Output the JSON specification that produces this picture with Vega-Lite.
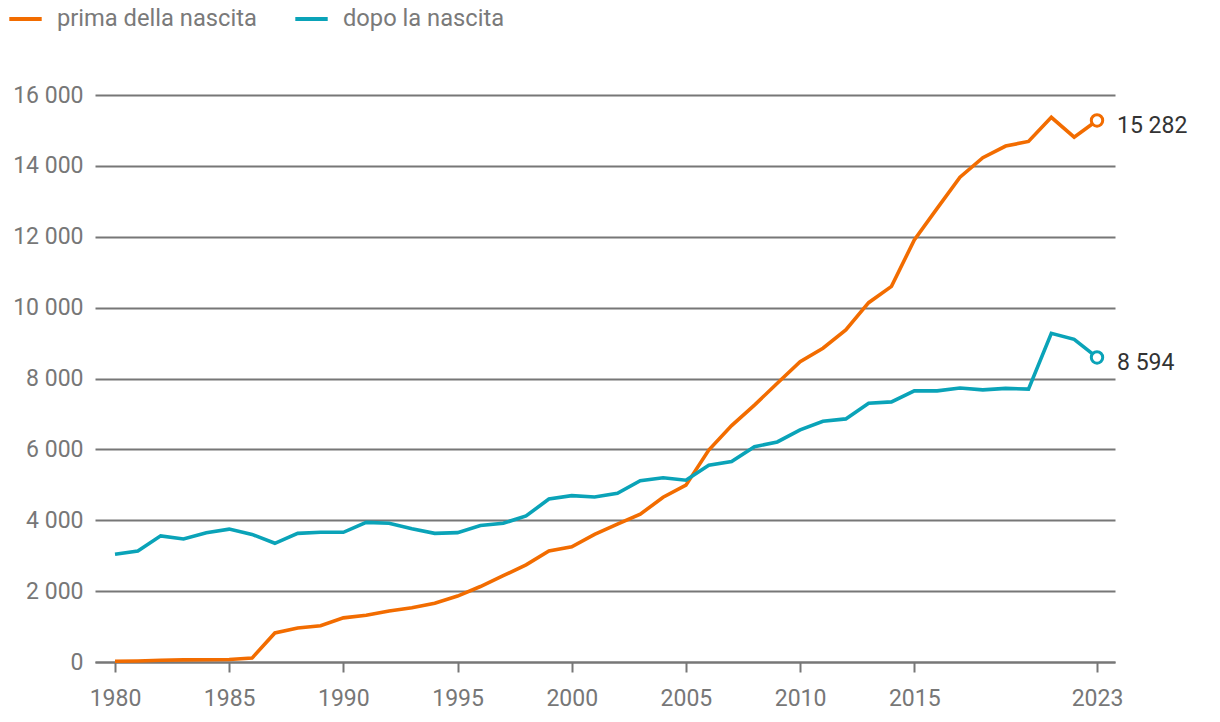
{
  "$schema": "https://vega.github.io/schema/vega-lite/v6.json",
  "autosize": "none",
  "width": 1020,
  "height": 567,
  "padding": {"left": 95, "top": 95, "right": 105, "bottom": 60},
  "background": "white",
  "config": {
    "font": "Roboto",
    "view": {"stroke": null},
    "axis": {"labelFont": "Roboto", "labelColor": "#777777", "labelFontSize": 23}
  },
  "data": {"values": [
    {"year":1980,"serie":"prima della nascita","value":20},
    {"year":1981,"serie":"prima della nascita","value":30},
    {"year":1982,"serie":"prima della nascita","value":50},
    {"year":1983,"serie":"prima della nascita","value":60},
    {"year":1984,"serie":"prima della nascita","value":65},
    {"year":1985,"serie":"prima della nascita","value":70},
    {"year":1986,"serie":"prima della nascita","value":110},
    {"year":1987,"serie":"prima della nascita","value":820},
    {"year":1988,"serie":"prima della nascita","value":960},
    {"year":1989,"serie":"prima della nascita","value":1025},
    {"year":1990,"serie":"prima della nascita","value":1245},
    {"year":1991,"serie":"prima della nascita","value":1320},
    {"year":1992,"serie":"prima della nascita","value":1440},
    {"year":1993,"serie":"prima della nascita","value":1530},
    {"year":1994,"serie":"prima della nascita","value":1660},
    {"year":1995,"serie":"prima della nascita","value":1860},
    {"year":1996,"serie":"prima della nascita","value":2130},
    {"year":1997,"serie":"prima della nascita","value":2435},
    {"year":1998,"serie":"prima della nascita","value":2740},
    {"year":1999,"serie":"prima della nascita","value":3130},
    {"year":2000,"serie":"prima della nascita","value":3250},
    {"year":2001,"serie":"prima della nascita","value":3600},
    {"year":2002,"serie":"prima della nascita","value":3890},
    {"year":2003,"serie":"prima della nascita","value":4170},
    {"year":2004,"serie":"prima della nascita","value":4650},
    {"year":2005,"serie":"prima della nascita","value":4990},
    {"year":2006,"serie":"prima della nascita","value":5980},
    {"year":2007,"serie":"prima della nascita","value":6670},
    {"year":2008,"serie":"prima della nascita","value":7250},
    {"year":2009,"serie":"prima della nascita","value":7865},
    {"year":2010,"serie":"prima della nascita","value":8475},
    {"year":2011,"serie":"prima della nascita","value":8855},
    {"year":2012,"serie":"prima della nascita","value":9370},
    {"year":2013,"serie":"prima della nascita","value":10140},
    {"year":2014,"serie":"prima della nascita","value":10600},
    {"year":2015,"serie":"prima della nascita","value":11910},
    {"year":2016,"serie":"prima della nascita","value":12800},
    {"year":2017,"serie":"prima della nascita","value":13680},
    {"year":2018,"serie":"prima della nascita","value":14230},
    {"year":2019,"serie":"prima della nascita","value":14560},
    {"year":2020,"serie":"prima della nascita","value":14690},
    {"year":2021,"serie":"prima della nascita","value":15370},
    {"year":2022,"serie":"prima della nascita","value":14810},
    {"year":2023,"serie":"prima della nascita","value":15282},
    {"year":1980,"serie":"dopo la nascita","value":3040},
    {"year":1981,"serie":"dopo la nascita","value":3130},
    {"year":1982,"serie":"dopo la nascita","value":3560},
    {"year":1983,"serie":"dopo la nascita","value":3470},
    {"year":1984,"serie":"dopo la nascita","value":3650},
    {"year":1985,"serie":"dopo la nascita","value":3750},
    {"year":1986,"serie":"dopo la nascita","value":3600},
    {"year":1987,"serie":"dopo la nascita","value":3350},
    {"year":1988,"serie":"dopo la nascita","value":3630},
    {"year":1989,"serie":"dopo la nascita","value":3660},
    {"year":1990,"serie":"dopo la nascita","value":3660},
    {"year":1991,"serie":"dopo la nascita","value":3940},
    {"year":1992,"serie":"dopo la nascita","value":3915},
    {"year":1993,"serie":"dopo la nascita","value":3760},
    {"year":1994,"serie":"dopo la nascita","value":3630},
    {"year":1995,"serie":"dopo la nascita","value":3650},
    {"year":1996,"serie":"dopo la nascita","value":3850},
    {"year":1997,"serie":"dopo la nascita","value":3915},
    {"year":1998,"serie":"dopo la nascita","value":4120},
    {"year":1999,"serie":"dopo la nascita","value":4600},
    {"year":2000,"serie":"dopo la nascita","value":4695},
    {"year":2001,"serie":"dopo la nascita","value":4655},
    {"year":2002,"serie":"dopo la nascita","value":4760},
    {"year":2003,"serie":"dopo la nascita","value":5115},
    {"year":2004,"serie":"dopo la nascita","value":5200},
    {"year":2005,"serie":"dopo la nascita","value":5130},
    {"year":2006,"serie":"dopo la nascita","value":5555},
    {"year":2007,"serie":"dopo la nascita","value":5660},
    {"year":2008,"serie":"dopo la nascita","value":6075},
    {"year":2009,"serie":"dopo la nascita","value":6210},
    {"year":2010,"serie":"dopo la nascita","value":6550},
    {"year":2011,"serie":"dopo la nascita","value":6795},
    {"year":2012,"serie":"dopo la nascita","value":6860},
    {"year":2013,"serie":"dopo la nascita","value":7300},
    {"year":2014,"serie":"dopo la nascita","value":7340},
    {"year":2015,"serie":"dopo la nascita","value":7650},
    {"year":2016,"serie":"dopo la nascita","value":7650},
    {"year":2017,"serie":"dopo la nascita","value":7730},
    {"year":2018,"serie":"dopo la nascita","value":7680},
    {"year":2019,"serie":"dopo la nascita","value":7720},
    {"year":2020,"serie":"dopo la nascita","value":7700},
    {"year":2021,"serie":"dopo la nascita","value":9275},
    {"year":2022,"serie":"dopo la nascita","value":9105},
    {"year":2023,"serie":"dopo la nascita","value":8594}
  ]},
  "encoding": {
    "x": {
      "field": "year", "type": "quantitative",
      "scale": {"domain": [1979.124, 2023.788], "nice": false, "zero": false},
      "axis": {
        "title": null, "values": [1980,1985,1990,1995,2000,2005,2010,2015,2023],
        "format": "d", "grid": false, "domainColor": "#777777", "domainWidth": 2,
        "tickColor": "#777777", "tickWidth": 2, "tickSize": 10, "labelPadding": 15,
        "labelFlush": false
      }
    },
    "y": {
      "field": "value", "type": "quantitative",
      "scale": {"domain": [0, 16000], "nice": false},
      "axis": {
        "title": null, "values": [0,2000,4000,6000,8000,10000,12000,14000,16000],
        "labelExpr": "replace(format(datum.value, ','), regexp(',', 'g'), ' ')",
        "domain": false, "ticks": false, "grid": true, "gridColor": "#777777",
        "gridWidth": 1.8, "labelPadding": 12
      }
    },
    "color": {
      "field": "serie", "type": "nominal",
      "scale": {"domain": ["prima della nascita", "dopo la nascita"], "range": ["#f26c00", "#0aa3b8"]},
      "legend": {
        "title": null, "orient": "none", "direction": "horizontal",
        "legendX": -88, "legendY": -95,
        "symbolType": "stroke", "symbolSize": 1050, "symbolStrokeWidth": 4,
        "labelFontSize": 23.7, "labelColor": "#7a7a7a", "labelFont": "Roboto",
        "labelOffset": 13, "columnPadding": 30, "labelLimit": 400
      }
    }
  },
  "layer": [
    {"mark": {"type": "line", "strokeWidth": 3.6, "strokeJoin": "miter"}},
    {
      "transform": [{"filter": "datum.year == 2023"}],
      "mark": {"type": "point", "filled": false, "fill": "white", "strokeWidth": 3, "size": 130, "opacity": 1}
    },
    {
      "transform": [
        {"filter": "datum.year == 2023"},
        {"calculate": "replace(format(datum.value, ','), regexp(',', 'g'), ' ')", "as": "label"}
      ],
      "mark": {"type": "text", "align": "left", "dx": 20, "dy": 6, "fontSize": 23, "color": "#333333", "font": "Roboto"},
      "encoding": {"text": {"field": "label"}, "color": {"value": "#333333"}}
    }
  ]
}
